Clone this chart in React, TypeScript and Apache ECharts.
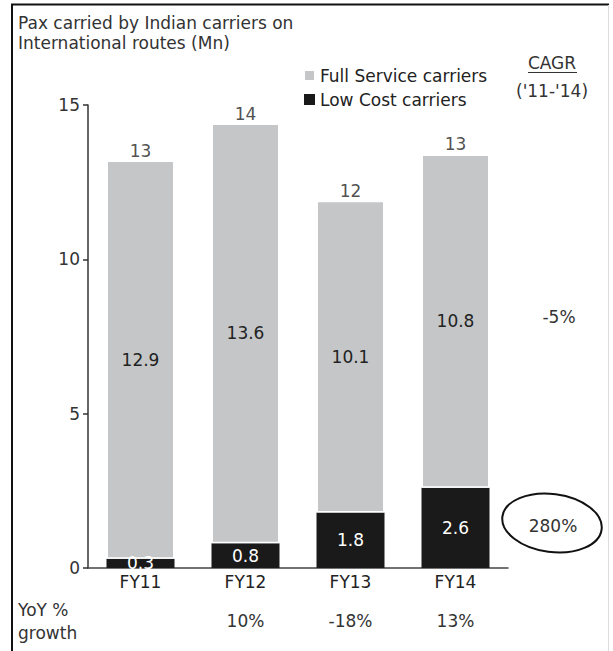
import React, { useEffect, useRef } from "react";
import * as echarts from "echarts";

const categories = ["FY11", "FY12", "FY13", "FY14"];
const lowCost = [0.3, 0.8, 1.8, 2.6];
const fullService = [12.9, 13.6, 10.1, 10.8];
const growth = ["", "10%", "-18%", "13%"];
const cagrFull = "-5%";
const cagrLow = "280%";
const yTicks = { min: 0, max: 15, interval: 5 };

const FONT = "DejaVu Sans";

export default function App() {
  const ref = useRef<HTMLDivElement>(null);
  useEffect(() => {
    if (!ref.current) return;
    const chart = echarts.init(ref.current, undefined, { renderer: "svg" });
    const totals = categories.map((_, i) => +(lowCost[i] + fullService[i]).toFixed(1));
    const option: any = {
      animation: false,
      backgroundColor: "#fff",
      textStyle: { fontFamily: FONT },
      grid: { left: 88, right: 105, top: 105, bottom: 83 },
      legend: {
        data: ["Full Service carriers", "Low Cost carriers"],
        orient: "vertical",
        left: 303,
        top: 66,
        icon: "rect",
        itemWidth: 11,
        itemHeight: 11,
        itemGap: 5,
        padding: 0,
        selectedMode: false,
        textStyle: { fontSize: 17, color: "#222", fontFamily: FONT, lineHeight: 19 },
      },
      xAxis: [
        {
          type: "category",
          data: categories,
          axisLine: { lineStyle: { color: "#444", width: 1.5 } },
          axisTick: { show: false },
          axisLabel: { fontSize: 17, color: "#222", margin: 5, fontFamily: FONT, lineHeight: 17 },
        },
        {
          type: "category",
          data: categories,
          position: "bottom",
          offset: 40,
          axisLine: { show: false },
          axisTick: { show: false },
          axisLabel: {
            fontSize: 17,
            color: "#333",
            margin: 4,
            fontFamily: FONT,
            formatter: (_v: string, i: number) => growth[i],
          },
        },
      ],
      yAxis: {
        type: "value",
        min: yTicks.min,
        max: yTicks.max,
        interval: yTicks.interval,
        axisLine: { show: true, lineStyle: { color: "#333", width: 1.5 } },
        axisTick: { show: true, length: 5, lineStyle: { color: "#333", width: 1.5 } },
        splitLine: { show: false },
        axisLabel: { fontSize: 17, color: "#333", margin: 8, fontFamily: FONT },
      },
      series: [
        {
          name: "Low Cost carriers",
          type: "bar",
          stack: "total",
          barWidth: 68,
          data: lowCost,
          itemStyle: { color: "#1b1a1a" },
          label: {
            show: true,
            position: "inside",
            color: "#fff",
            fontSize: 17,
            lineHeight: 13,
            fontFamily: FONT,
          },
        },
        {
          name: "Full Service carriers",
          type: "bar",
          stack: "total",
          barWidth: 68,
          data: fullService,
          itemStyle: { color: "#c4c6c8", borderColor: "#fff", borderWidth: 1.5 },
          label: {
            show: true,
            position: "inside",
            color: "#222",
            fontSize: 17,
            fontFamily: FONT,
          },
        },
        {
          name: "Total",
          type: "scatter",
          data: totals,
          symbolSize: 1,
          itemStyle: { color: "rgba(0,0,0,0)" },
          label: {
            show: true,
            position: "top",
            distance: 1,
            color: "#222",
            fontSize: 17,
            fontFamily: FONT,
            formatter: (p: any) => String(Math.round(p.value)),
          },
          silent: true,
        },
      ],
      graphic: [
        { type: "line", shape: { x1: 11, y1: 4.5, x2: 609, y2: 4.5 }, style: { stroke: "#111", lineWidth: 2 } },
        { type: "line", shape: { x1: 12, y1: 4, x2: 12, y2: 651 }, style: { stroke: "#111", lineWidth: 2 } },
        { type: "line", shape: { x1: 608.5, y1: 5, x2: 608.5, y2: 651 }, style: { stroke: "#ddd", lineWidth: 1 } },
        {
          type: "text",
          left: 18,
          top: 13,
          style: {
            text: "Pax carried by Indian carriers on\nInternational routes (Mn)",
            font: `17px "${FONT}"`,
            lineHeight: 20,
            fill: "#333",
          },
        },
        {
          type: "text",
          x: 552,
          y: 63,
          style: { text: "CAGR", font: `17px "${FONT}"`, fill: "#333", align: "center", verticalAlign: "middle" },
        },
        { type: "line", shape: { x1: 528, y1: 72.5, x2: 577, y2: 72.5 }, style: { stroke: "#333", lineWidth: 1 } },
        {
          type: "text",
          x: 552,
          y: 91,
          style: { text: "('11-'14)", font: `17px "${FONT}"`, fill: "#333", align: "center", verticalAlign: "middle" },
        },
        {
          type: "text",
          x: 559,
          y: 317,
          style: { text: cagrFull, font: `17px "${FONT}"`, fill: "#333", align: "center", verticalAlign: "middle" },
        },
        {
          type: "text",
          x: 553,
          y: 526,
          style: { text: cagrLow, font: `17px "${FONT}"`, fill: "#333", align: "center", verticalAlign: "middle" },
        },
        {
          type: "group",
          x: 552,
          y: 523,
          rotation: -0.13,
          children: [
            {
              type: "ellipse",
              shape: { cx: 0, cy: 0, rx: 50, ry: 29 },
              style: { fill: "none", stroke: "#111", lineWidth: 2 },
            },
          ],
        },
        {
          type: "text",
          left: 18,
          top: 598,
          style: {
            text: "YoY %\ngrowth",
            font: `17px "${FONT}"`,
            lineHeight: 23,
            fill: "#333",
          },
        },
      ],
    };
    chart.setOption(option);
    return () => chart.dispose();
  }, []);
  return (
    <div
      ref={ref}
      style={{ position: "fixed", left: 0, top: 0, width: 613, height: 651, background: "#fff" }}
    />
  );
}
